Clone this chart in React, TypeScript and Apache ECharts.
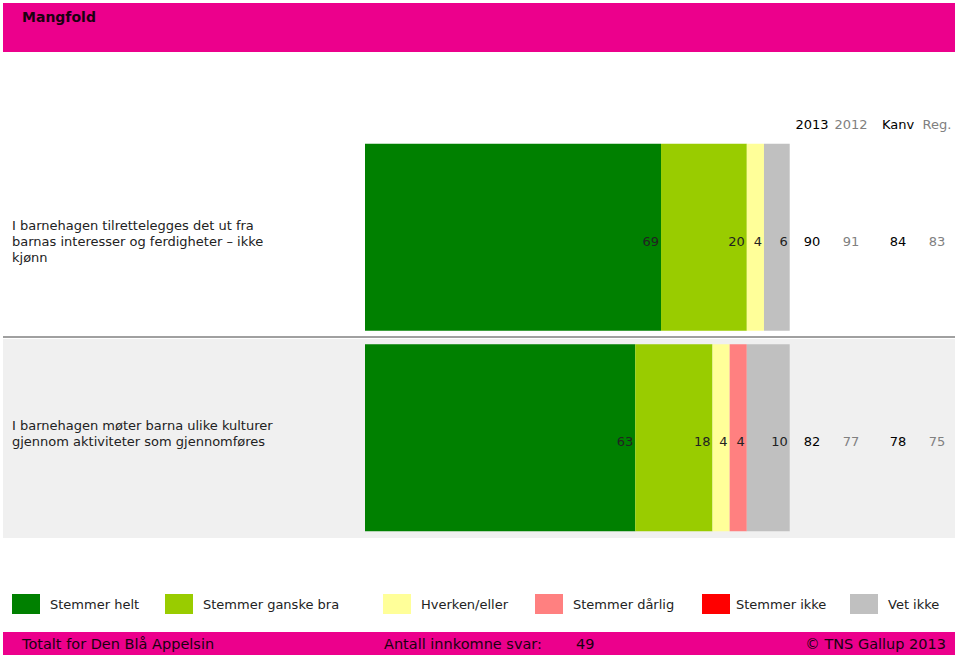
import React, { useEffect, useRef } from "react";
import * as echarts from "echarts";

const categories = [
  "I barnehagen tilrettelegges det ut fra\nbarnas interesser og ferdigheter – ikke\nkjønn",
  "I barnehagen møter barna ulike kulturer\ngjennom aktiviteter som gjennomføres",
];
const seriesNames = [
  "Stemmer helt",
  "Stemmer ganske bra",
  "Hverken/eller",
  "Stemmer dårlig",
  "Stemmer ikke",
  "Vet ikke",
];
const seriesColors = ["#008000", "#99CC00", "#FFFF99", "#FF8080", "#FF0000", "#C0C0C0"];
const stemmerHelt = [69, 63];
const stemmerGanskeBra = [20, 18];
const hverkenEller = [4, 4];
const stemmerDarlig = [0, 4];
const stemmerIkke = [0, 0];
const vetIkke = [6, 10];
const seriesValues = [stemmerHelt, stemmerGanskeBra, hverkenEller, stemmerDarlig, stemmerIkke, vetIkke];

const columnHeaders = ["2013", "2012", "Kanv", "Reg."];
const col2013 = [90, 82];
const col2012 = [91, 77];
const colKanv = [84, 78];
const colReg = [83, 75];
const columnValues = [col2013, col2012, colKanv, colReg];

const FONT = "'DejaVu Sans', Verdana, sans-serif";

export default function App() {
  const ref = useRef<HTMLDivElement>(null);
  useEffect(() => {
    document.body.style.margin = "0";
    const chart = echarts.init(ref.current!, null, { renderer: "svg" });
    const colX = [812, 851, 898, 937];
    const colColors = ["#000000", "#808080", "#000000", "#808080"];
    const rowY = [241, 441];
    const legendX = [12, 165, 383, 535, 702, 850];
    const legendPad = [5, 5, 5, 5, 1, 5];
    const graphics: any[] = [
      { type: "rect", shape: { x: 3, y: 3, width: 952, height: 49 }, style: { fill: "#EC008C" }, z: -10, silent: true },
      { type: "text", x: 22, y: 17, style: { text: "Mangfold", fill: "#1a0010", font: `bold 14px ${FONT}`, verticalAlign: "middle" } },
      { type: "rect", shape: { x: 3, y: 339, width: 952, height: 199 }, style: { fill: "#F0F0F0" }, z: -10, silent: true },
      { type: "rect", shape: { x: 3, y: 336, width: 952, height: 2 }, style: { fill: "#A0A0A0" }, z: -9, silent: true },
      { type: "rect", shape: { x: 3, y: 632, width: 952, height: 23 }, style: { fill: "#EC008C" }, z: -10, silent: true },
      { type: "text", x: 22, y: 644, style: { text: "Totalt for Den Blå Appelsin", fill: "#1a0010", font: `14.5px ${FONT}`, verticalAlign: "middle" } },
      { type: "text", x: 384, y: 644, style: { text: "Antall innkomne svar:", fill: "#1a0010", font: `14.5px ${FONT}`, verticalAlign: "middle" } },
      { type: "text", x: 576, y: 644, style: { text: "49", fill: "#1a0010", font: `14.5px ${FONT}`, verticalAlign: "middle" } },
      { type: "text", x: 946, y: 644, style: { text: "© TNS Gallup 2013", fill: "#1a0010", font: `14.5px ${FONT}`, verticalAlign: "middle", align: "right" } },
    ];
    columnHeaders.forEach((h, i) => {
      graphics.push({ type: "text", x: colX[i], y: 124, style: { text: h, fill: colColors[i], font: `13px ${FONT}`, align: "center", verticalAlign: "middle" } });
    });
    columnValues.forEach((vals, i) => {
      vals.forEach((v, r) => {
        graphics.push({ type: "text", x: colX[i], y: rowY[r], style: { text: String(v), fill: colColors[i], font: `13px ${FONT}`, align: "center", verticalAlign: "middle" } });
      });
    });

    chart.setOption({
      animation: false,
      textStyle: { fontFamily: FONT },
      grid: { left: 365, width: 429, top: 137, height: 401, containLabel: false },
      xAxis: { type: "value", min: 0, max: 100, show: false },
      yAxis: {
        type: "category",
        data: categories,
        inverse: true,
        axisLine: { show: false },
        axisTick: { show: false },
        splitLine: { show: false },
        axisLabel: {
          align: "left",
          margin: 353,
          fontSize: 13,
          lineHeight: 16,
          color: "#222",
          fontFamily: FONT,
          formatter: (v: string, idx: number) => {
            const lines = v.split("\n").map((l) => `{t|${l}}`);
            if (idx === 0) return ["{s| }", ...lines].join("\n");
            return [...lines, "{s| }"].join("\n");
          },
          rich: {
            t: { fontSize: 13, lineHeight: 16, color: "#222", fontFamily: FONT },
            s: { fontSize: 4, lineHeight: 8 },
          },
        },
      },
      legend: seriesNames.map((name, i) => ({
        left: legendX[i],
        top: 594,
        padding: 0,
        itemWidth: 28,
        itemHeight: 20,
        icon: "rect",
        data: [name],
        textStyle: { fontSize: 13, color: "#222", fontFamily: FONT, padding: [0, 0, 0, legendPad[i]] },
      })),
      series: seriesNames.map((name, i) => ({
        name,
        type: "bar",
        stack: "total",
        barWidth: 187,
        itemStyle: { color: seriesColors[i] },
        data: seriesValues[i],
        label: {
          show: true,
          position: "insideRight",
          distance: 2,
          color: "#222",
          fontSize: 13,
          fontFamily: FONT,
          formatter: (p: any) => (p.value ? String(p.value) : ""),
          offset: [0, 4],
        },
      })),
      graphic: graphics,
    });
    return () => chart.dispose();
  }, []);
  return <div ref={ref} style={{ width: 959, height: 655 }} />;
}
